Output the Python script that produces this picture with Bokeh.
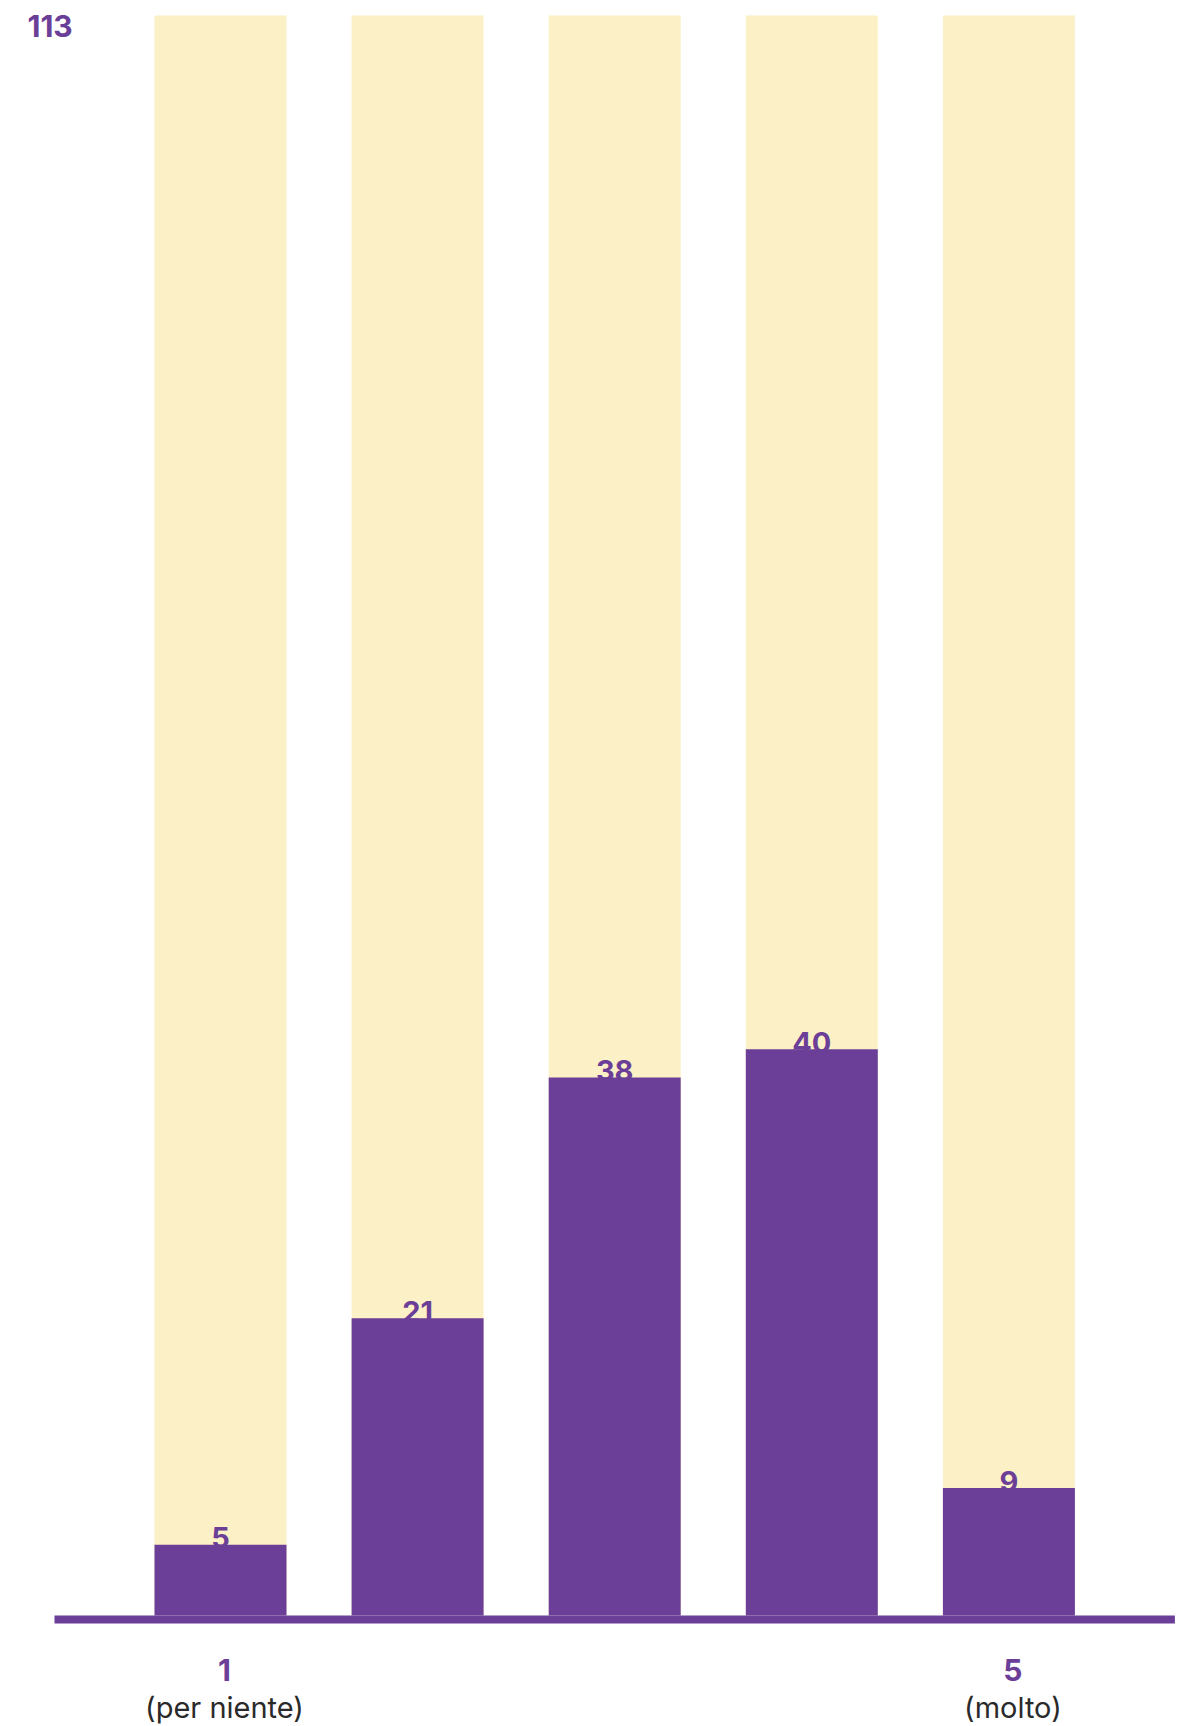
from bokeh.plotting import figure
from bokeh.embed import file_html
from bokeh.resources import INLINE
from bokeh.core.properties import value

# ---- data ----
categories = [1, 2, 3, 4, 5]
counts = [5, 21, 38, 40, 9]
total = 113
tick_main = ["1", "", "", "", "5"]
tick_sub = ["(per niente)", "", "", "", "(molto)"]

PURPLE = "#6B3F97"
YELLOW = "#FCF0C6"
FONT = "Inter"

W, H = 1194, 1726
px_per_x = 197.1
px_per_y = 1600 / total
x_start = 1 - 220 / px_per_x
x_end = x_start + W / px_per_x
y_start = -(H - 1615) / px_per_y
y_end = y_start + H / px_per_y

p = figure(width=W, height=H, x_range=(x_start, x_end), y_range=(y_start, y_end),
           output_backend="svg", toolbar_location=None, min_border=0,
           x_axis_type=None, y_axis_type=None)
p.grid.visible = False
p.outline_line_color = None
p.background_fill_color = "white"
p.border_fill_color = "white"

bw = 132 / px_per_x
# background (total) bars
p.vbar(x=categories, top=[total] * len(categories), bottom=0, width=bw,
       fill_color=YELLOW, line_color=None)
# value bars
p.vbar(x=categories, top=counts, bottom=0, width=bw,
       fill_color=PURPLE, line_color=None)

# baseline
p.quad(left=[categories[0] - 166 / px_per_x], right=[categories[-1] + 166 / px_per_x],
       top=[0], bottom=[-8 / px_per_y], fill_color=PURPLE, line_color=None)

# value labels
p.text(x=categories, y=counts, text=[str(c) for c in counts],
       text_align="center", text_baseline="alphabetic", y_offset=-7,
       text_font=value(FONT), text_font_style="bold", text_font_size="29px",
       text_color=PURPLE)

# total label
p.text(x=[x_start + 27 / px_per_x], y=[total], text=[str(total)],
       text_align="left", text_baseline="alphabetic", y_offset=10,
       text_font=value(FONT), text_font_style="bold", text_font_size="30px",
       text_color=PURPLE)

# category labels
p.text(x=categories, y=[0] * 5, text=tick_main,
       text_align="center", text_baseline="alphabetic", x_offset=4, y_offset=54,
       text_font=value(FONT), text_font_style="bold", text_font_size="30px",
       text_color=PURPLE)
p.text(x=categories, y=[0] * 5, text=tick_sub,
       text_align="center", text_baseline="alphabetic", x_offset=4, y_offset=92,
       text_font=value(FONT), text_font_size="29px",
       text_color="#2a2a2a")

open("out.html", "w").write(file_html(p, INLINE))
